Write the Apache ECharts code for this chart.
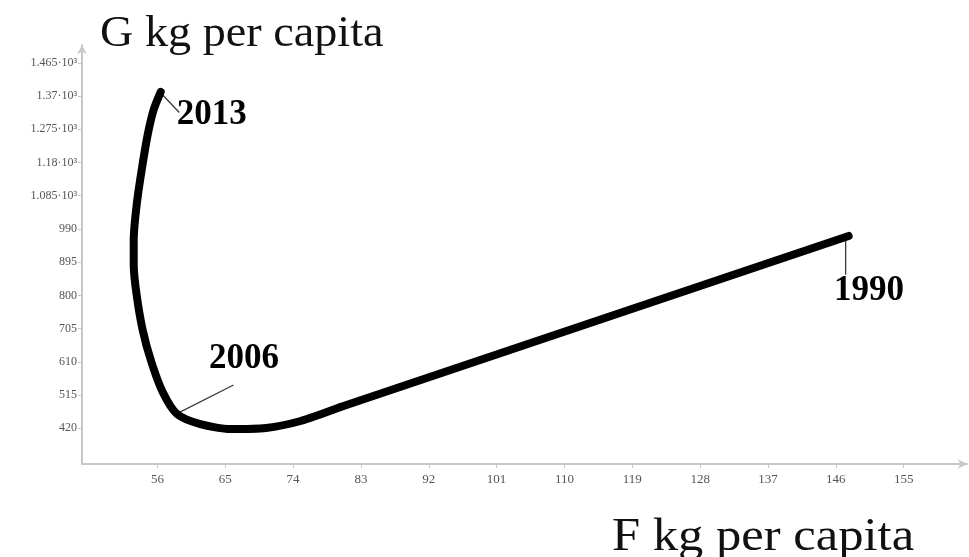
<!DOCTYPE html>
<html>
<head>
<meta charset="utf-8">
<script src="https://cdn.jsdelivr.net/npm/echarts@6/dist/echarts.min.js"></script>
<style>
html, body { margin: 0; padding: 0; background: #ffffff; }
#chart { width: 969px; height: 557px; }
</style>
</head>
<body>
<div id="chart"></div>
<script>
// Path of F (x) against G (y), kg per capita, running from 1990 to 2013
const pathF = [147.7, 80.3, 75.0, 70.4, 65.7, 61.7, 58.6, 56.7, 55.2, 54.05, 53.25, 52.86, 52.86, 53.25, 53.92, 54.71, 55.51, 56.44];
const pathG = [970, 481, 441, 421, 418, 432, 461, 524, 610, 701, 801, 887, 959, 1059, 1159, 1259, 1331, 1382];
// The 1990 leg is straight; the rest bends round from 80.3 onward
const bendStart = 1;

// Tick labels
const xTicks = [56, 65, 74, 83, 92, 101, 110, 119, 128, 137, 146, 155];
const yTicks = [420, 515, 610, 705, 800, 895, 990, 1085, 1180, 1275, 1370, 1465];

// Year annotations: text, label anchor, leader line start and end
const yearNames = ['2013', '2006', '1990'];
const yearLabelAt = [[63.2, 1316], [67.5, 617], [150.4, 812]];
const leaderFrom = [[56.4, 1380], [58.6, 462], [147.3, 965]];
const leaderTo = [[58.9, 1323], [66.1, 544], [147.3, 859]];

const AXIS = '#c8c8c8';
const TICKTXT = '#555555';
const SERIF = '"Liberation Serif", "DejaVu Serif", serif';

function yLabel(v) {
  if (v >= 1000) return (v / 1000) + '\u00B710\u00B3';
  return String(v);
}

const chart = echarts.init(document.getElementById('chart'), null, { renderer: 'canvas' });

const points = pathF.map((f, i) => [f, pathG[i]]);
const pathStyle = { color: '#000000', width: 8, cap: 'round', join: 'round' };

const series = [
  {
    type: 'line',
    data: points.slice(0, bendStart + 1),
    showSymbol: false,
    lineStyle: pathStyle,
    z: 5,
    silent: true
  },
  {
    type: 'line',
    data: points.slice(bendStart),
    smooth: 0.25,
    showSymbol: false,
    lineStyle: pathStyle,
    z: 5,
    silent: true
  }
];

leaderFrom.forEach((p, i) => {
  series.push({
    type: 'line',
    data: [p, leaderTo[i]],
    showSymbol: false,
    lineStyle: { color: '#3a3a3a', width: 1.3 },
    z: 4,
    silent: true
  });
});

series.push({
  type: 'scatter',
  data: yearLabelAt.map((p, i) => ({ value: p, name: yearNames[i] })),
  symbolSize: 0,
  itemStyle: { color: '#000000', opacity: 1 },
  label: {
    show: true,
    position: 'inside',
    formatter: p => p.name,
    fontFamily: SERIF,
    fontWeight: 'bold',
    fontSize: 35,
    color: '#000000',
    textBorderWidth: 0,
    opacity: 1
  },
  z: 6,
  silent: true
});

chart.setOption({
  animation: false,
  backgroundColor: '#ffffff',
  grid: { left: 82, right: 2, top: 45, bottom: 93, containLabel: false },
  xAxis: {
    type: 'value',
    min: 46,
    max: 163.4,
    splitLine: { show: false },
    axisLine: { show: true, onZero: false, lineStyle: { color: AXIS, width: 2 }, symbol: ['none', 'arrow'], symbolSize: [7, 9] },
    axisTick: { show: true, customValues: xTicks, length: 4, lineStyle: { color: AXIS, width: 1 } },
    axisLabel: { customValues: xTicks, color: TICKTXT, fontFamily: SERIF, fontSize: 13, margin: 9, formatter: v => String(v) }
  },
  yAxis: {
    type: 'value',
    min: 318,
    max: 1516,
    splitLine: { show: false },
    axisLine: { show: true, onZero: false, lineStyle: { color: AXIS, width: 2 }, symbol: ['none', 'arrow'], symbolSize: [7, 9] },
    axisTick: { show: true, customValues: yTicks, length: 4, lineStyle: { color: AXIS, width: 1 } },
    axisLabel: { customValues: yTicks, color: TICKTXT, fontFamily: SERIF, fontSize: 12, margin: 5, formatter: yLabel }
  },
  graphic: [
    { type: 'text', left: 100, top: 12, scaleX: 1.05, style: { text: 'G kg per capita', font: '44px ' + SERIF, fill: '#111111' } },
    { type: 'text', left: 612, top: 515, scaleX: 1.1, style: { text: 'F kg per capita', font: '46px ' + SERIF, fill: '#111111' } }
  ],
  series: series
});
</script>
</body>
</html>
